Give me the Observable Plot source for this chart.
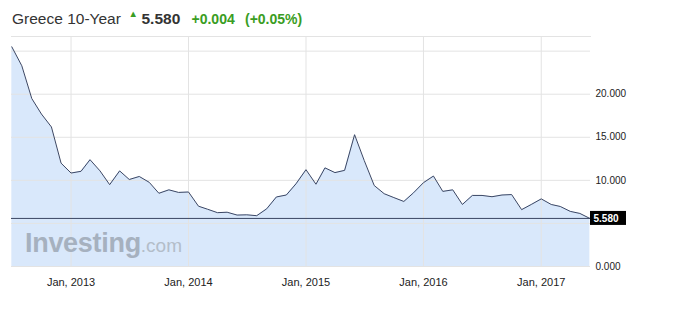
<!DOCTYPE html>
<html>
<head>
<meta charset="utf-8">
<script src="https://cdn.jsdelivr.net/npm/d3@7"></script>
<script src="https://cdn.jsdelivr.net/npm/@observablehq/plot@0.6"></script>
<style>
  html, body { margin: 0; padding: 0; background: #fff; }
  body { width: 675px; height: 336px; overflow: hidden; font-family: "Liberation Sans", Arial, sans-serif; }
  #hdr { position: relative; height: 30px; }
  #hdr span { position: absolute; line-height: 1; white-space: nowrap; }
  #wrap { position: relative; }
  #wm { position: absolute; left: 25px; top: 200px; white-space: nowrap; line-height: 1; pointer-events: none; }
</style>
</head>
<body>
<div id="hdr">
  <span id="t1" style="left:12px;top:11px;font-size:15.5px;color:#333;"></span>
  <span id="t2" style="left:128.5px;top:9px;font-size:9.5px;color:#3a9d23;">▲</span>
  <span id="t3" style="left:141.5px;top:11px;font-size:15.5px;font-weight:bold;color:#333;"></span>
  <span id="t4" style="left:191.5px;top:12px;font-size:14px;font-weight:bold;color:#3a9d23;"></span>
  <span id="t5" style="left:245px;top:12px;font-size:14px;font-weight:bold;color:#3a9d23;"></span>
</div>
<div id="wrap">
  <div id="chart"></div>
  <div id="wm"><span style="font-size:27px;font-weight:bold;color:#a6b1bf;letter-spacing:-0.3px;">Investing</span><span style="font-size:19px;color:#b3bdc9;">.com</span></div>
</div>
<script>
// ---- data ----
const title = "Greece 10-Year";
const lastValue = 5.580;
const change = "+0.004";
const changePct = "(+0.05%)";

const months = [
  "2012-07","2012-08","2012-09","2012-10","2012-11","2012-12",
  "2013-01","2013-02","2013-03","2013-04","2013-05","2013-06","2013-07","2013-08","2013-09","2013-10","2013-11","2013-12",
  "2014-01","2014-02","2014-03","2014-04","2014-05","2014-06","2014-07","2014-08","2014-09","2014-10","2014-11","2014-12",
  "2015-01","2015-02","2015-03","2015-04","2015-05","2015-06","2015-07","2015-08","2015-09","2015-10","2015-11","2015-12",
  "2016-01","2016-02","2016-03","2016-04","2016-05","2016-06","2016-07","2016-08","2016-09","2016-10","2016-11","2016-12",
  "2017-01","2017-02","2017-03","2017-04","2017-05","2017-06"
];
const yields = [
  25.5, 23.3, 19.5, 17.7, 16.2, 12.0,
  10.85, 11.05, 12.4, 11.1, 9.5, 11.1, 10.1, 10.45, 9.77, 8.5, 8.9, 8.6,
  8.65, 7.0, 6.65, 6.25, 6.3, 5.97, 6.0, 5.9, 6.7, 8.07, 8.3, 9.6,
  11.24, 9.55, 11.45, 10.9, 11.16, 15.3, 12.3, 9.4, 8.45, 8.0, 7.55, 8.55,
  9.73, 10.5, 8.72, 8.9, 7.2, 8.25, 8.25, 8.1, 8.3, 8.35, 6.6, 7.2,
  7.85, 7.2, 6.97, 6.4, 6.16, 5.58
];
const xTickDates = ["2013-01-01","2014-01-01","2015-01-01","2016-01-01","2017-01-01"];
const yTickValues = [0, 10, 15, 20];
const yGridValues = [0, 5, 10, 15, 20, 25];
const xDomain = ["2012-06-30", "2017-06-03"];
const yDomain = [0, 26.7];

// ---- header ----
document.getElementById("t1").textContent = title;
document.getElementById("t3").textContent = lastValue.toFixed(3);
document.getElementById("t4").textContent = change;
document.getElementById("t5").textContent = changePct;

const data = months.map((m, i) => ({date: new Date(m + "-01"), value: yields[i]}));
const xTicks = xTickDates.map(d => new Date(d));

const font = '"Liberation Sans", Arial, sans-serif';
const gridColor = "#e3e3e3";

const plot = Plot.plot({
  width: 675,
  height: 306,
  marginTop: 6,
  marginBottom: 70,
  marginLeft: 11,
  marginRight: 85,
  x: {type: "utc", domain: xDomain.map(d => new Date(d)), label: null},
  y: {domain: yDomain, label: null},
  style: {fontFamily: font, fontSize: "11px", color: "#222", background: "#fff"},
  marks: [
    Plot.areaY(data, {x: "date", y: "value", fill: "#d9e8fb"}),
    Plot.gridX(xTicks, {stroke: gridColor, strokeOpacity: 1}),
    Plot.gridY(yGridValues, {stroke: gridColor, strokeOpacity: 1}),
    Plot.frame({anchor: "top", stroke: gridColor}),
    Plot.lineY(data, {x: "date", y: "value", stroke: "#3b4663", strokeWidth: 1}),
    Plot.ruleY([lastValue], {stroke: "#3b4663", strokeWidth: 1}),
    Plot.axisX(xTicks, {tickSize: 0, tickPadding: 12, fontSize: 11, fill: "#222", label: null,
      tickFormat: d => "Jan, " + d.getUTCFullYear()}),
    Plot.axisY(yTickValues, {anchor: "right", tickSize: 0, tickPadding: 5, fontSize: 10, fill: "#222", label: null,
      tickFormat: d => d.toFixed(3)})
  ]
});
document.getElementById("chart").appendChild(plot);

// price tag on the right at the last value
const ys = plot.scale("y").apply(lastValue);
const xr = plot.scale("x").range[1];
const svg = d3.select(plot);
const g = svg.append("g");
g.append("rect").attr("x", xr).attr("y", ys - 7).attr("width", 36).attr("height", 14).attr("fill", "#000");
g.append("text").attr("x", xr + 3.5).attr("y", ys).attr("dy", "0.36em")
  .attr("text-anchor", "start")
  .attr("fill", "#fff").attr("font-size", 10).attr("font-weight", "bold")
  .attr("font-family", font).text(lastValue.toFixed(3));
</script>
</body>
</html>
